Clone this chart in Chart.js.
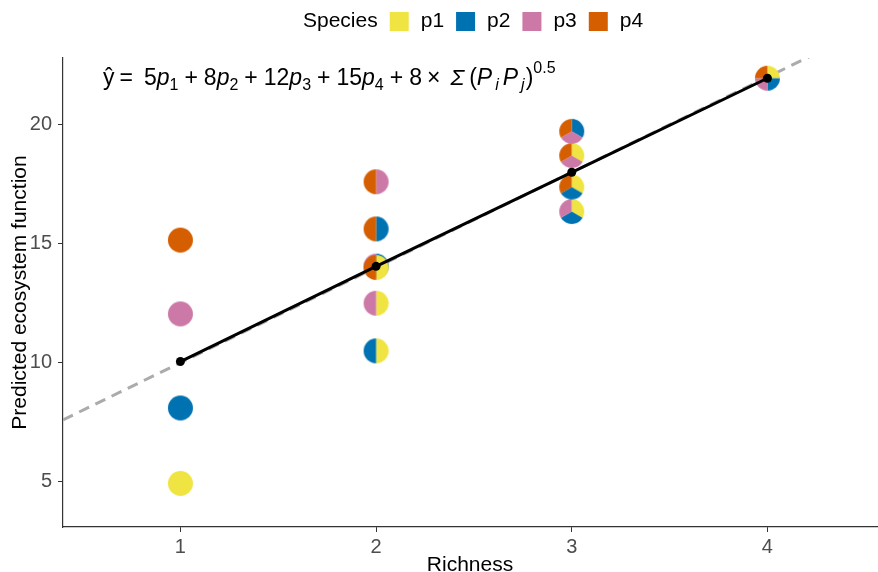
<!DOCTYPE html>
<html><head><meta charset="utf-8">
<script src="https://cdn.jsdelivr.net/npm/chart.js@4/dist/chart.umd.min.js"></script>
<style>html,body{margin:0;padding:0;background:#fff}#wrap{width:878px;height:572px}</style>
</head><body><div id="wrap"><canvas id="c" width="878" height="572"></canvas></div>
<script>
const speciesNames = ['p1', 'p2', 'p3', 'p4'];
const speciesColors = ['#F0E442', '#0072B2', '#CC79A7', '#D55E00'];
const communities = [['p1'], ['p2'], ['p3'], ['p4'],
  ['p1','p2'], ['p1','p3'], ['p2','p3'], ['p1','p4'], ['p2','p4'], ['p3','p4'],
  ['p1','p2','p3'], ['p1','p2','p4'], ['p1','p3','p4'], ['p2','p3','p4'],
  ['p1','p2','p3','p4']];
const richness = [1, 1, 1, 1, 2, 2, 2, 2, 2, 2, 3, 3, 3, 3, 4];
const predicted = [4.93, 8.1, 12.05, 15.15, 10.5, 12.5, 14.06, 14.0, 15.62, 17.6, 16.35, 17.38, 18.7, 19.72, 21.95];
const meanRichness = [1, 2, 3, 4];
const meanPredicted = [10.05, 14.05, 18.0, 21.95];
const trendX = [0.4, 4.6];
const trendY = [7.6, 24.4];
const xTicks = [1, 2, 3, 4];
const yTicks = [5, 10, 15, 20];
const xTitle = 'Richness';
const yTitle = 'Predicted ecosystem function';
const legendTitle = 'Species';

const FONT = '"Liberation Sans", Arial, sans-serif';
const PIE_R = 12.5;

function makePie(members, r) {
  const c = document.createElement('canvas');
  const s = Math.ceil(r * 2) + 2;
  c.width = s; c.height = s;
  const ctx = c.getContext('2d');
  const cx = s / 2, cy = s / 2, n = members.length;
  members.forEach((m, i) => {
    const a0 = -Math.PI / 2 + i * 2 * Math.PI / n, a1 = a0 + 2 * Math.PI / n;
    ctx.beginPath();
    if (n > 1) ctx.moveTo(cx, cy);
    ctx.arc(cx, cy, r, a0, a1);
    ctx.closePath();
    ctx.fillStyle = speciesColors[speciesNames.indexOf(m)];
    ctx.fill();
  });
  return c;
}
const pies = communities.map(m => makePie(m, PIE_R));

const legendPlugin = {
  id: 'speciesLegend',
  afterDraw(chart) {
    const ctx = chart.ctx;
    ctx.save();
    ctx.font = '21px ' + FONT;
    ctx.textBaseline = 'middle';
    ctx.fillStyle = '#000';
    const cy = 21.5;
    let x = 303;
    ctx.fillText(legendTitle, x, cy);
    x += ctx.measureText(legendTitle).width + 12;
    speciesNames.forEach((n, i) => {
      ctx.fillStyle = speciesColors[i];
      ctx.fillRect(x, cy - 9.5, 19, 19);
      x += 19 + 12;
      ctx.fillStyle = '#000';
      ctx.fillText(n, x, cy);
      x += ctx.measureText(n).width + 12;
    });
    ctx.restore();
  }
};

const eqSegments = [
  {t: 'ŷ'}, {g: 5}, {t: '='}, {g: 11}, {t: '5'}, {t: 'p', it: 1}, {t: '1', sub: 1},
  {g: 6}, {t: '+'}, {g: 6}, {t: '8'}, {t: 'p', it: 1}, {t: '2', sub: 1},
  {g: 6}, {t: '+'}, {g: 6}, {t: '12'}, {t: 'p', it: 1}, {t: '3', sub: 1},
  {g: 6}, {t: '+'}, {g: 6}, {t: '15'}, {t: 'p', it: 1}, {t: '4', sub: 1},
  {g: 6}, {t: '+'}, {g: 6}, {t: '8'}, {g: 5}, {t: '×'}, {g: 10},
  {t: 'Σ', it: 1}, {g: 5}, {t: '('}, {t: 'P', it: 1}, {g: 3}, {t: 'i', it: 1, sub: 1}, {g: 4}, {t: 'P', it: 1},
  {g: 3}, {t: 'j', it: 1, sub: 1}, {g: 1}, {t: ')'}, {t: '0.5', sup: 1}
];
const equationPlugin = {
  id: 'equation',
  afterDraw(chart) {
    const ctx = chart.ctx;
    ctx.save();
    ctx.fillStyle = '#000';
    ctx.textBaseline = 'alphabetic';
    let x = 103;
    const base = 85, size = 23;
    eqSegments.forEach(s => {
      if (s.g) { x += s.g; return; }
      const sz = (s.sub || s.sup) ? Math.round(size * 0.7) : size;
      ctx.font = (s.it ? 'italic ' : '') + sz + 'px ' + FONT;
      let y = base;
      if (s.sub) y += 5;
      if (s.sup) y -= 12;
      ctx.fillText(s.t, x, y);
      x += ctx.measureText(s.t).width;
    });
    ctx.restore();
  }
};

new Chart(document.getElementById('c'), {
  type: 'scatter',
  data: {
    datasets: [
      {
        type: 'line',
        data: meanRichness.map((x, i) => ({x: x, y: meanPredicted[i]})),
        borderColor: '#000', borderWidth: 3,
        pointRadius: 4.5, pointBackgroundColor: '#000', pointBorderWidth: 0,
        fill: false, tension: 0
      },
      {
        data: richness.map((x, i) => ({x: x, y: predicted[i]})),
        pointStyle: pies, pointRadius: PIE_R, showLine: false
      },
      {
        type: 'line',
        data: trendX.map((x, i) => ({x: x, y: trendY[i]})),
        borderColor: '#ABABAB', borderWidth: 3, borderDash: [11, 7],
        pointRadius: 0, fill: false, clip: 0
      }
    ]
  },
  options: {
    responsive: false, animation: false, events: [],
    layout: {autoPadding: false, padding: {top: 58, right: 1, left: 0, bottom: 0}},
    plugins: {legend: {display: false}, tooltip: {enabled: false}},
    scales: {
      x: {
        type: 'linear', min: 0.4, max: 4.56,
        afterBuildTicks: s => { s.ticks = xTicks.map(v => ({value: v})); },
        afterFit: s => { s.height = 45; s.paddingLeft = 0; s.paddingRight = 0; },
        ticks: {font: {size: 20, family: FONT}, color: '#4D4D4D', padding: 3, callback: v => String(v)},
        grid: {display: true, drawOnChartArea: false, drawTicks: true, tickLength: 5, color: '#333', lineWidth: 1},
        border: {display: true, color: '#333', width: 1.2},
        title: {display: true, text: xTitle, font: {size: 21, family: FONT, lineHeight: 1}, color: '#000', padding: {top: 0, bottom: -4}}
      },
      y: {
        type: 'linear', min: 3.1, max: 22.8,
        afterBuildTicks: s => { s.ticks = yTicks.map(v => ({value: v})); },
        afterFit: s => { s.width = 63; s.paddingTop = 0; s.paddingBottom = 0; },
        ticks: {font: {size: 20, family: FONT}, color: '#4D4D4D', padding: 6, callback: v => String(v)},
        grid: {display: true, drawOnChartArea: false, drawTicks: true, tickLength: 5, color: '#333', lineWidth: 1},
        border: {display: true, color: '#333', width: 1.2},
        title: {display: true, text: yTitle, font: {size: 21, family: FONT}, color: '#000', padding: {top: 8, bottom: 0}}
      }
    }
  },
  plugins: [legendPlugin, equationPlugin]
});
</script>
</body></html>
